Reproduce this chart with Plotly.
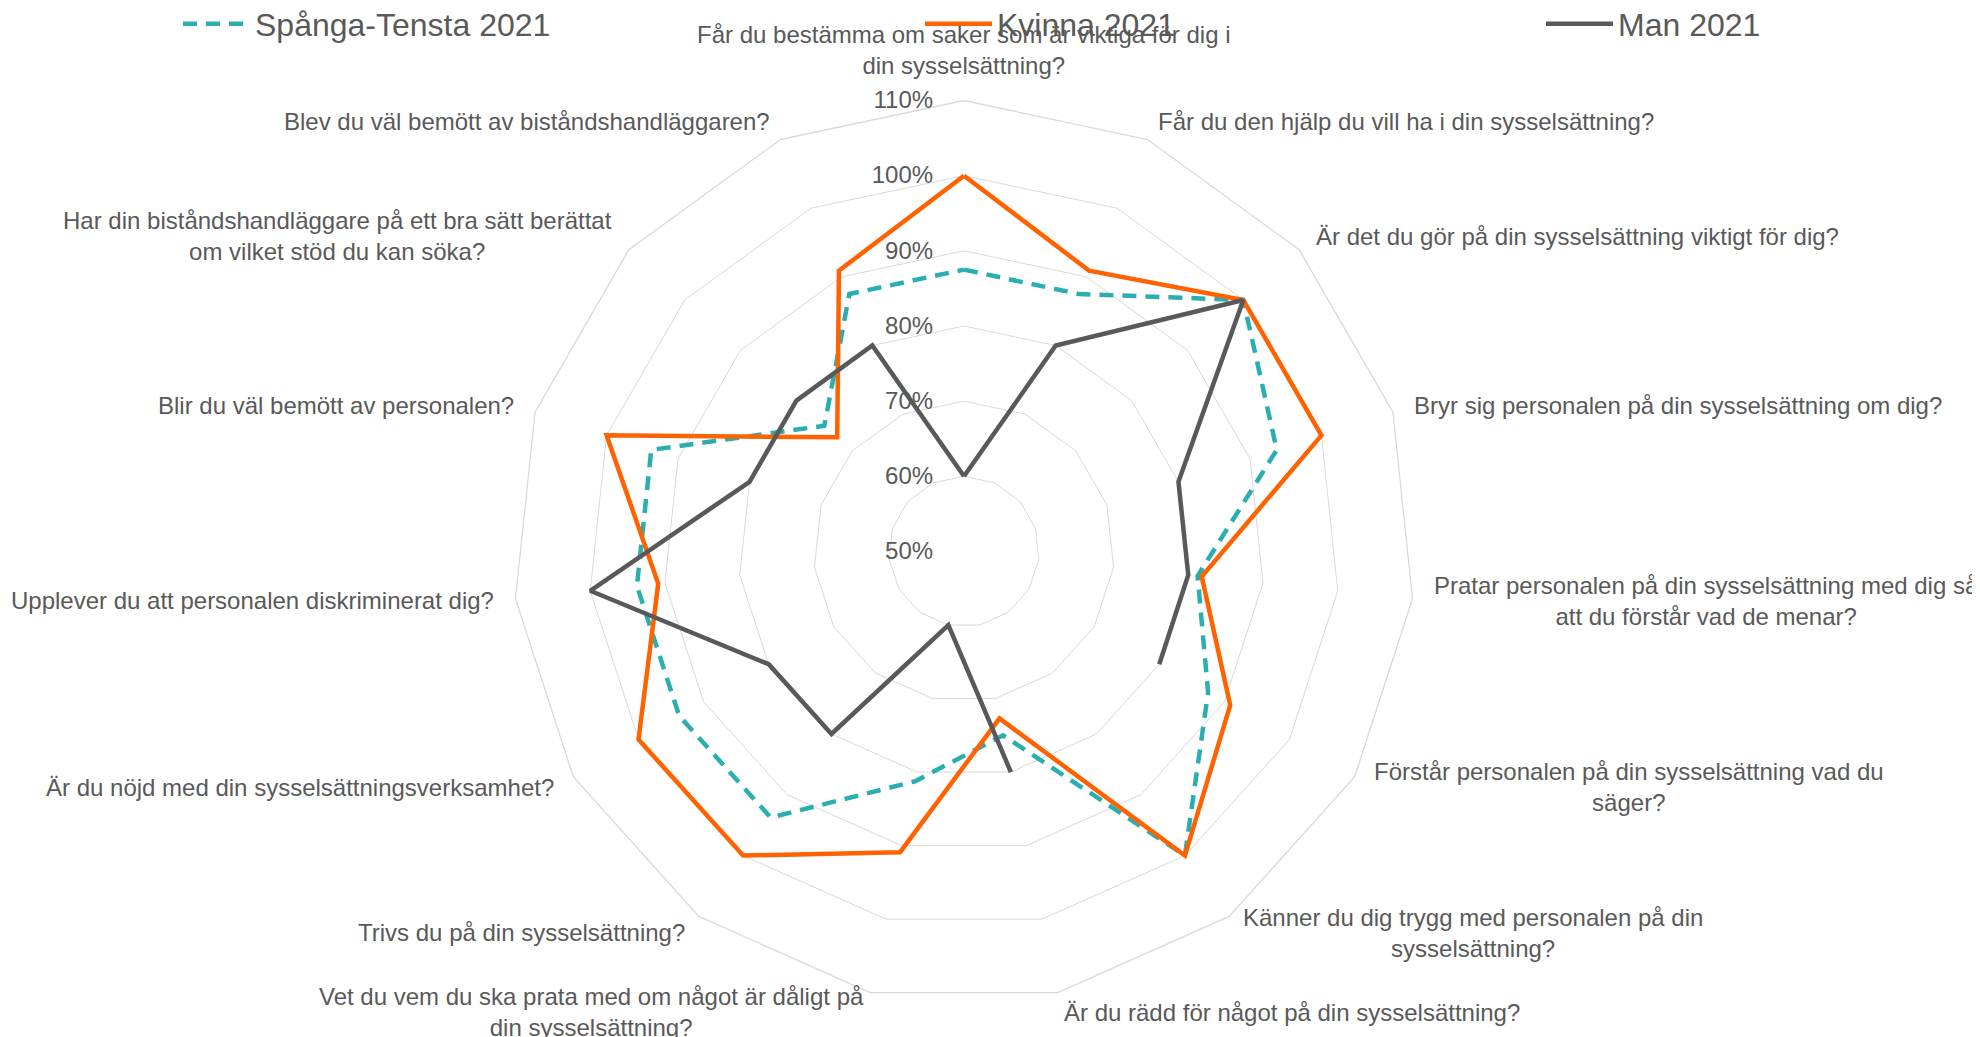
import math
import plotly.graph_objects as go

categories = [
    "Får du bestämma om saker som är viktiga för dig i<br>din sysselsättning?",
    "Får du den hjälp du vill ha i din sysselsättning?",
    "Är det du gör på din sysselsättning viktigt för dig?",
    "Bryr sig personalen på din sysselsättning om dig?",
    "Pratar personalen på din sysselsättning med dig så<br>att du förstår vad de menar?",
    "Förstår personalen på din sysselsättning vad du<br>säger?",
    "Känner du dig trygg med personalen på din<br>sysselsättning?",
    "Är du rädd för något på din sysselsättning?",
    "Vet du vem du ska prata med om något är dåligt på<br>din sysselsättning?",
    "Trivs du på din sysselsättning?",
    "Är du nöjd med din sysselsättningsverksamhet?",
    "Upplever du att personalen diskriminerat dig?",
    "Blir du väl bemött av personalen?",
    "Har din biståndshandläggare på ett bra sätt berättat<br>om vilket stöd du kan söka?",
    "Blev du väl bemött av biståndshandläggaren?",
]

spanga_tensta_2021 = [87.5, 87.5, 100, 93.75, 81.25, 87.5, 100, 75, 81.25, 93.75, 93.75, 93.75, 93.75, 75, 87.5]
kvinna_2021 = [100, 90.9, 100, 100, 81.8, 90.9, 100, 72.7, 90.9, 100, 100, 90.9, 100, 72.7, 90.9]
man_2021 = [60, 80, 100, 80, 80, 80, None, 80, 60, 80, 80, 100, 80, 80, 80]

radial_ticks = [50, 60, 70, 80, 90, 100, 110]
radial_ticktext = [f"{v}%" for v in radial_ticks]

FONT = "Liberation Sans, Arial, sans-serif"
TEXT = "#595959"


def closed(vals):
    return list(vals) + [vals[0]]


fig = go.Figure()
fig.add_trace(go.Scatterpolar(
    r=closed(spanga_tensta_2021), theta=closed(categories), mode="lines",
    name="Spånga-Tensta 2021", legend="legend",
    line=dict(color="#2BAEB0", width=4.5, dash="14px,9px"),
))
fig.add_trace(go.Scatterpolar(
    r=closed(kvinna_2021), theta=closed(categories), mode="lines",
    name="Kvinna 2021", legend="legend2",
    line=dict(color="#FF6200", width=4.5),
))
fig.add_trace(go.Scatterpolar(
    r=closed(man_2021), theta=closed(categories), mode="lines",
    name="Man 2021", legend="legend3", connectgaps=False,
    line=dict(color="#595959", width=4.5),
))

W, H = 1980, 1037
cx, cy, R = 956, 543.5, 451

# category labels placed just outside each spoke of the polar grid
n = len(categories)
annotations = []
for k, lab in enumerate(categories):
    th = math.radians(360.0 * k / n)
    s, c = math.sin(th), math.cos(th)
    px = cx + (R + 20) * s
    py = cy - (R + 20) * c
    if abs(s) < 0.1:
        xa = "center"
        ya = "bottom" if c > 0 else "top"
    else:
        xa = "left" if s > 0 else "right"
        ya = "middle"
    annotations.append(dict(
        x=px / W, y=1 - py / H, xref="paper", yref="paper",
        text=lab, showarrow=False, xanchor=xa, yanchor=ya, align="center",
        font=dict(family=FONT, size=24, color=TEXT),
    ))

legend_common = dict(
    orientation="h", xanchor="left", yanchor="middle",
    font=dict(family=FONT, size=32, color=TEXT),
    bgcolor="rgba(0,0,0,0)", itemwidth=67,
)
ly = 1 - 16 / H

fig.update_layout(
    width=W, height=H,
    margin=dict(l=0, r=0, t=0, b=0, autoexpand=False),
    paper_bgcolor="white",
    showlegend=True,
    font=dict(family=FONT, size=24, color=TEXT),
    polar=dict(
        domain=dict(x=[(cx - R) / W, (cx + R) / W], y=[(H - cy - R) / H, (H - cy + R) / H]),
        gridshape="linear",
        bgcolor="white",
        radialaxis=dict(
            range=[50, 110], tickvals=radial_ticks, ticktext=radial_ticktext,
            angle=90, side="counterclockwise", tickangle=90,
            showline=False, ticks="outside", ticklen=22, tickcolor="rgba(0,0,0,0)",
            gridcolor="#d9d9d9", gridwidth=1.3,
            tickfont=dict(family=FONT, size=24, color=TEXT),
        ),
        angularaxis=dict(
            type="category", direction="clockwise", rotation=90,
            showgrid=False, showline=True, linecolor="#d9d9d9", linewidth=1.3,
            ticks="", showticklabels=False,
        ),
    ),
    annotations=annotations,
    legend=dict(x=170 / W, y=ly, **legend_common),
    legend2=dict(x=912 / W, y=ly, **legend_common),
    legend3=dict(x=1533 / W, y=ly, **legend_common),
)

fig.write_html("out.html")
